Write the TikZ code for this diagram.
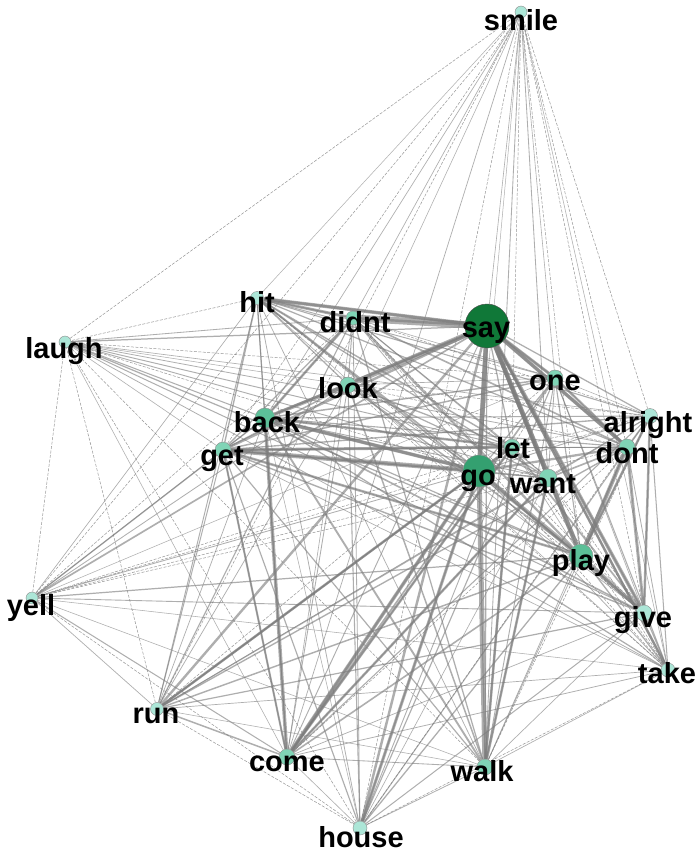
\documentclass[tikz,border=0pt]{standalone}
\usepackage{fontspec}
\setmainfont{Liberation Sans}
\pgfdeclarelayer{bg}
\pgfdeclarelayer{edges}
\pgfsetlayers{bg,edges,main}
\definecolor{saycol}{RGB}{16,120,56}
\definecolor{gocol}{RGB}{52,160,112}
\definecolor{hicol}{RGB}{92,192,152}
\definecolor{midcol}{RGB}{128,212,182}
\definecolor{lowcol}{RGB}{172,230,215}
\definecolor{edgecol}{RGB}{125,125,125}
\tikzset{
  vtx/.style={circle, draw=black!45, line width=0.4pt, inner sep=0pt, minimum size=15pt, fill=midcol},
  lbl/.style={font=\bfseries\fontsize{29}{29}\selectfont, anchor=base, inner sep=0pt, text=black},
  edgeline/.style={draw=edgecol, draw opacity=0.62},
  edgethin/.style={draw=edgecol, draw opacity=0.8, line width=0.5pt, dash pattern=on 3pt off 1.5pt},
}
\begin{document}
\begin{tikzpicture}[x=1pt,y=-1pt]
\begin{pgfonlayer}{bg}
\path[use as bounding box, fill=white] (0,0) rectangle (698,852);
\end{pgfonlayer}
% vertices
\node[vtx, minimum size=12pt, fill=lowcol] (smile) at (521,12) {};
\node[vtx, minimum size=13pt, fill=lowcol] (hit) at (257,298) {};
\node[vtx, minimum size=14pt] (didnt) at (353,318) {};
\node[vtx, minimum size=44pt, fill=saycol, draw=black!70] (say) at (487,326) {};
\node[vtx, minimum size=12pt, fill=lowcol] (laugh) at (65,342) {};
\node[vtx, minimum size=16pt] (look) at (348,385) {};
\node[vtx, minimum size=16pt] (one) at (555,378) {};
\node[vtx, minimum size=20pt, fill=hicol] (back) at (265,418) {};
\node[vtx, minimum size=15pt, fill=lowcol] (alright) at (650,416) {};
\node[vtx, minimum size=16pt] (get) at (223,450) {};
\node[vtx, minimum size=16pt] (dont) at (627,447) {};
\node[vtx, minimum size=16pt] (let) at (512,447) {};
\node[vtx, minimum size=32pt, fill=gocol] (go) at (479,471) {};
\node[vtx, minimum size=18pt] (want) at (548,478) {};
\node[vtx, minimum size=24pt, fill=hicol] (play) at (581,556) {};
\node[vtx, minimum size=12pt, fill=lowcol] (yell) at (32,598) {};
\node[vtx, minimum size=16pt, fill=lowcol] (give) at (644,613) {};
\node[vtx, minimum size=14pt, fill=lowcol] (take) at (668,670) {};
\node[vtx, minimum size=13pt, fill=lowcol] (run) at (157,709) {};
\node[vtx, minimum size=16pt] (come) at (287,757) {};
\node[vtx, minimum size=16pt] (walk) at (485,767) {};
\node[vtx, minimum size=14pt, fill=lowcol] (house) at (360,828) {};
% edges
\begin{pgfonlayer}{edges}
\pgfmathsetseed{11}
\def\nodelist{say/1.0, go/0.85, play/0.7, back/0.65, dont/0.55, come/0.55, want/0.5, let/0.5, one/0.5, look/0.5, didnt/0.5, get/0.5, walk/0.5, give/0.5, hit/0.45, alright/0.4, take/0.4, run/0.4, house/0.38, yell/0.3, laugh/0.3, smile/0.25}
\foreach [count=\i] \a/\sa in \nodelist {
  \foreach [count=\j] \b/\sb in \nodelist {
    \ifnum\j>\i
      \pgfmathsetmacro\w{4.2*\sa*\sb*(0.35+1.3*rnd)}
      \pgfmathtruncatemacro\isthin{\w<0.5}
      \ifnum\isthin=1
        \draw[edgethin] (\a) -- (\b);
      \else
        \draw[edgeline, line width=\w pt] (\a) -- (\b);
      \fi
    \fi
  }
}
\foreach \a/\b/\w in {say/didnt/7, say/hit/3.5, say/look/5, look/back/3.5, get/go/4.5,
  back/go/3.5, go/walk/5, back/come/3.5, go/come/3.5, say/play/4, say/give/3.5,
  play/dont/4, play/give/3.5, dont/give/3, say/want/3.5, say/one/3, say/go/4.5,
  get/let/3, back/let/2.5, go/house/3, say/dont/3.5, say/take/2.5, come/let/2.5,
  walk/let/2.5, didnt/back/2.5, get/play/2.5, run/go/2.5, alright/play/2.5, hit/didnt/3,
  one/dont/2.5, alright/give/2.5, walk/want/2.5, come/want/2.5, get/come/2, run/let/2}
  \draw[edgeline, line width=\w pt] (\a) -- (\b);
\end{pgfonlayer}
% labels
\node[lbl] (smile-l) at (521,30) {smile};
\node[lbl] (hit-l) at (257,312) {hit};
\node[lbl] (didnt-l) at (355,332) {didnt};
\node[lbl] (say-l) at (486,337) {say};
\node[lbl] (laugh-l) at (64,358) {laugh};
\node[lbl] (look-l) at (348,398) {look};
\node[lbl] (one-l) at (555,390) {one};
\node[lbl] (back-l) at (267,432) {back};
\node[lbl] (alright-l) at (648,432) {alright};
\node[lbl] (get-l) at (222,465) {get};
\node[lbl] (dont-l) at (627,463) {dont};
\node[lbl] (let-l) at (513,458) {let};
\node[lbl] (go-l) at (478,485) {go};
\node[lbl] (want-l) at (543,493) {want};
\node[lbl] (play-l) at (581,570) {play};
\node[lbl] (yell-l) at (31,615) {yell};
\node[lbl] (give-l) at (643,627) {give};
\node[lbl] (take-l) at (667,683) {take};
\node[lbl] (run-l) at (156,723) {run};
\node[lbl] (come-l) at (287,771) {come};
\node[lbl] (walk-l) at (482,781) {walk};
\node[lbl] (house-l) at (361,847) {house};
\end{tikzpicture}
\end{document}
